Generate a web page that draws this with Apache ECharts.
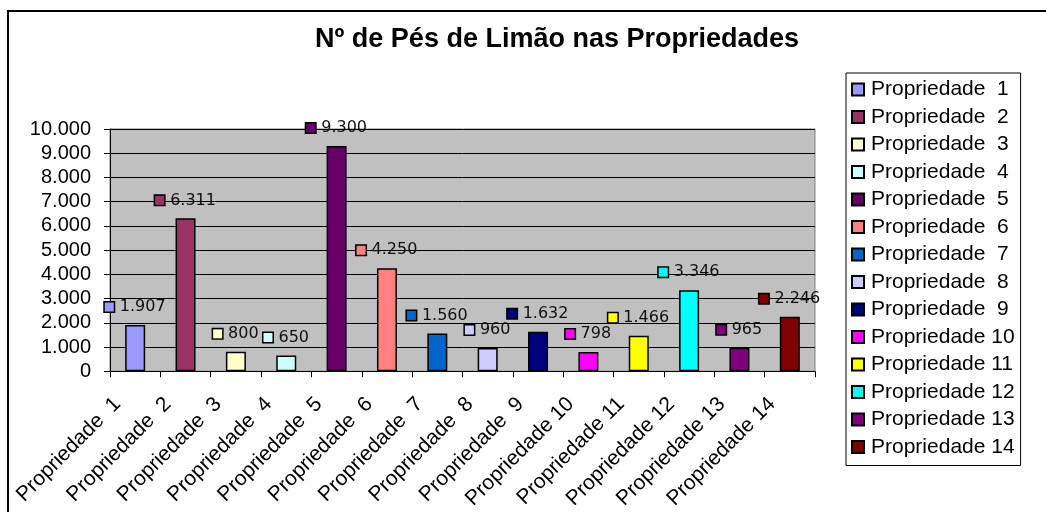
<!DOCTYPE html>
<html>
<head>
<meta charset="utf-8">
<script src="https://cdn.jsdelivr.net/npm/echarts@6/dist/echarts.min.js"></script>
<style>
html,body{margin:0;padding:0;background:#fff;}
#chart{width:1046px;height:512px;}
</style>
</head>
<body>
<div id="chart"></div>
<script>
const titleText = 'Nº de Pés de Limão nas Propriedades';
const categories = ['Propriedade  1','Propriedade  2','Propriedade  3','Propriedade  4','Propriedade  5','Propriedade  6','Propriedade  7','Propriedade  8','Propriedade  9','Propriedade 10','Propriedade 11','Propriedade 12','Propriedade 13','Propriedade 14'];
const values = [1907, 6311, 800, 650, 9300, 4250, 1560, 960, 1632, 798, 1466, 3346, 965, 2246];
const colors = ['#9999FF','#993366','#FFFFCC','#CCFFFF','#660066','#FF8080','#0066CC','#CCCCFF','#000080','#FF00FF','#FFFF00','#00FFFF','#800080','#800000'];
const yTicks = [0, 1000, 2000, 3000, 4000, 5000, 6000, 7000, 8000, 9000, 10000];

function fmt(v){ return String(v).replace(/\B(?=(\d{3})+(?!\d))/g, '.'); }

const chart = echarts.init(document.getElementById('chart'), null, {renderer:'canvas'});

const series = categories.map(function(name, i){
  const data = categories.map(function(_, j){ return j === i ? values[j] : '-'; });
  return {
    name: name,
    type: 'bar',
    stack: 'all',
    barWidth: 20,
    data: data,
    itemStyle: { color: colors[i], borderColor: '#000', borderWidth: 1.5 },
    label: {
      show: true,
      position: 'top',
      distance: 10,
      formatter: function(p){ return '{sq|}{v|' + fmt(p.value) + '}'; },
      rich: {
        sq: { width: 9, height: 9, backgroundColor: colors[i], borderColor: '#000', borderWidth: 1.5 },
        v: { fontFamily: 'DejaVu Sans', fontSize: 16, color: '#111', padding: [0,0,0,6] }
      }
    },
    emphasis: { disabled: true },
    animation: false
  };
});

chart.setOption({
  animation: false,
  backgroundColor: '#fff',
  title: {
    text: titleText,
    left: 557,
    top: 26,
    padding: 0,
    textAlign: 'center',
    textStyle: { fontFamily: 'Liberation Sans', fontWeight: 'bold', fontSize: 27, color: '#000' }
  },
  graphic: [{
    type: 'rect',
    shape: { x: 8, y: 11, width: 1100, height: 600 },
    style: { fill: 'none', stroke: '#000', lineWidth: 2 },
    silent: true
  }],
  legend: {
    orient: 'vertical',
    left: 846,
    top: 73,
    padding: [6, 6, 8, 5],
    itemGap: 6.5,
    itemWidth: 12,
    itemHeight: 12,
    icon: 'rect',
    borderColor: '#000',
    borderWidth: 1,
    backgroundColor: '#fff',
    textStyle: { fontFamily: 'Liberation Sans', fontSize: 21, color: '#000', padding: [0,0,0,2] },
    data: categories
  },
  grid: {
    left: 110, right: 231, top: 129, bottom: 140,
    show: true, backgroundColor: '#C0C0C0', borderColor: '#808080', borderWidth: 1
  },
  xAxis: {
    type: 'category',
    data: categories,
    boundaryGap: true,
    axisLine: { show: true, lineStyle: { color: '#000', width: 1 } },
    axisTick: { show: true, alignWithLabel: false, length: 6, lineStyle: { color: '#000' } },
    axisLabel: {
      interval: 0, rotate: 45, margin: 12,
      fontFamily: 'Liberation Sans', fontSize: 21, color: '#000',
      padding: [0, 25, 0, 0]
    }
  },
  yAxis: {
    type: 'value',
    min: yTicks[0], max: yTicks[yTicks.length-1], interval: 1000,
    axisLine: { show: true, lineStyle: { color: '#000', width: 1 } },
    axisTick: { show: true, length: 6, lineStyle: { color: '#000' } },
    splitLine: { show: true, lineStyle: { color: '#000', width: 1 } },
    axisLabel: { margin: 19, fontFamily: 'Liberation Sans', fontSize: 20, color: '#000', formatter: function(v){ return fmt(v); } }
  },
  series: series
});
</script>
</body>
</html>
